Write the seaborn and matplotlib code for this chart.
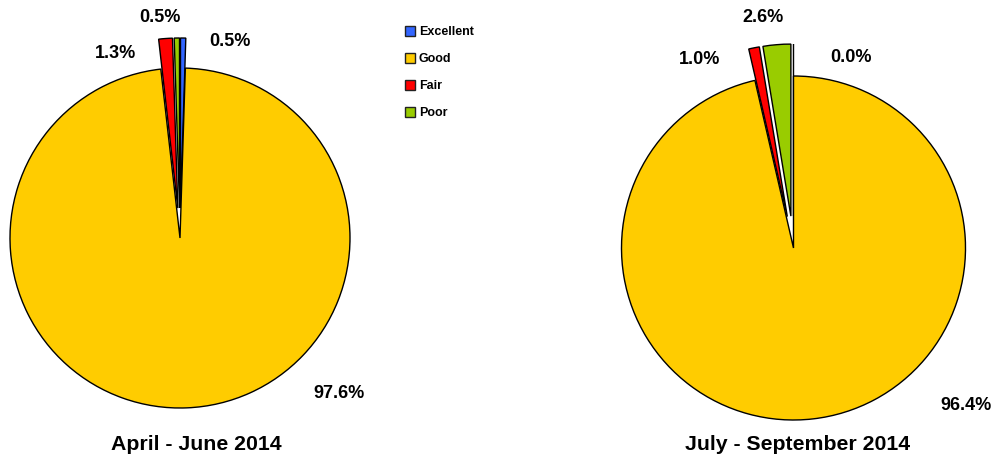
import matplotlib
matplotlib.use("Agg")
import matplotlib.pyplot as plt
import seaborn as sns
from matplotlib.patches import Patch

sns.set_theme(style="white")
plt.rcParams['font.family'] = ['Liberation Sans', 'DejaVu Sans']

categories = ["Excellent", "Good", "Fair", "Poor"]
q2_values = [0.5, 97.6, 1.3, 0.5]
q3_values = [0.0, 96.4, 1.0, 2.6]
titles = ["April - June 2014", "July - September 2014"]
colors = ["#3366FF", "#FFCC00", "#FF0000", "#99CC00"]

W, H = 1002, 458
fig = plt.figure(figsize=(W / 100, H / 100), dpi=100)
ax = fig.add_axes([0, 0, 1, 1])

def py(y):
    return H - y

pies = [
    dict(values=q2_values, center=(180, py(238)), radius=170, explode=30,
         labels=[(230, 41), (339, 394), (116, 53), (160, 18)], title=(196, 444)),
    dict(values=q3_values, center=(793.5, py(248)), radius=172, explode=32,
         labels=[(851, 58), (966, 406), (700, 60), (763, 18)], title=(798, 444)),
]

for p, title in zip(pies, titles):
    # matplotlib applies explode as an absolute offset (data units)
    expl = [p["explode"] if c != "Good" else 0.0 for c in categories]
    ax.pie(p["values"], colors=colors, startangle=90, counterclock=False,
           explode=expl, center=p["center"], radius=p["radius"],
           wedgeprops=dict(edgecolor="black", linewidth=1.0), frame=True)
    for (lx, lyy), v in zip(p["labels"], p["values"]):
        ax.text(lx, py(lyy), f"{v:.1f}%", ha="center", va="center",
                fontsize=13, fontweight="bold", color="black")
    ax.text(p["title"][0], py(p["title"][1]), title, ha="center", va="center",
            fontsize=15.3, fontweight="bold", color="black")

ax.set_xlim(0, W)
ax.set_ylim(0, H)
ax.set_aspect("equal", adjustable="box")
ax.axis("off")

handles = [Patch(facecolor=c, edgecolor="#222222", linewidth=1.0, label=l)
           for c, l in zip(colors, categories)]
leg = fig.legend(handles=handles, loc="upper left", bbox_to_anchor=(400 / W, 1 - 21 / H),
                 frameon=False, prop=dict(size=9, weight="bold"), labelcolor="black",
                 handlelength=0.8, handleheight=0.8, handletextpad=0.3,
                 labelspacing=1.2, borderaxespad=0)

fig.savefig("out.png", dpi=100)
